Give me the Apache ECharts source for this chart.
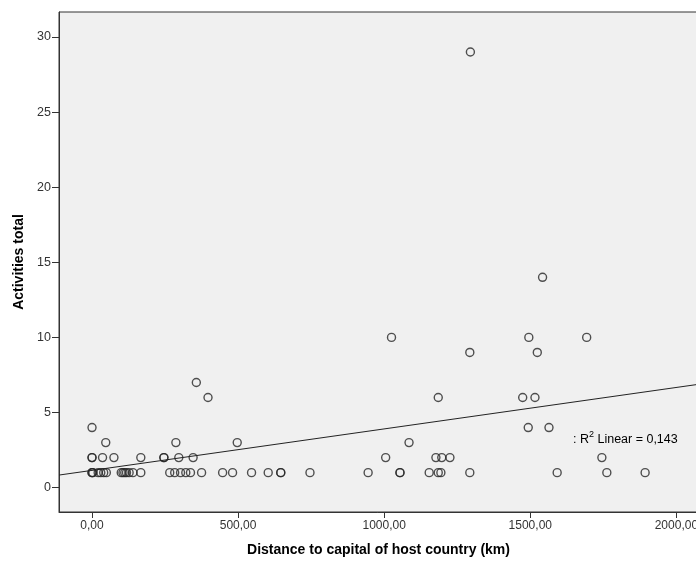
<!DOCTYPE html>
<html>
<head>
<meta charset="utf-8">
<script src="https://cdn.jsdelivr.net/npm/echarts@6/dist/echarts.min.js"></script>
<style>
  html, body { margin: 0; padding: 0; background: #ffffff; }
  #chart { width: 696px; height: 564px; }
</style>
</head>
<body>
<div id="chart"></div>
<script>
// Distance to capital (km) and activities total, paired by index
const distanceKm = [
  0, 0, 3, 21, 30, 40, 49, 100, 106, 112, 118, 127, 140, 167, 266, 283, 303, 321, 337, 375,
  447, 481, 546, 603, 646, 646, 746, 945, 1054, 1054, 1154, 1185, 1194, 1293, 1592, 1762, 1893,
  0, 0, 36, 75, 167, 246, 246, 297, 346, 1005, 1177, 1197, 1225, 1745,
  47, 287, 497, 1085,
  0, 1493, 1564,
  397, 1185, 1474, 1516,
  357,
  1293, 1524,
  1025, 1495, 1693,
  1542,
  1295
];
const activitiesTotal = [
  1, 1, 1, 1, 1, 1, 1, 1, 1, 1, 1, 1, 1, 1, 1, 1, 1, 1, 1, 1,
  1, 1, 1, 1, 1, 1, 1, 1, 1, 1, 1, 1, 1, 1, 1, 1, 1,
  2, 2, 2, 2, 2, 2, 2, 2, 2, 2, 2, 2, 2, 2,
  3, 3, 3, 3,
  4, 4, 4,
  6, 6, 6, 6,
  7,
  9, 9,
  10, 10, 10,
  14,
  29
];
const xTicks = [0, 500, 1000, 1500, 2000];
const yTicks = [0, 5, 10, 15, 20, 25, 30];
const xRange = [-113, 2074];
const yRange = [-1.62, 31.66];
// Linear fit
const fitIntercept = 1.15;
const fitSlope = 0.00276;
const r2Text = '0,143';

const points = distanceKm.map((d, i) => [d, activitiesTotal[i]]);
const fitLine = xRange.map(x => [x, fitIntercept + fitSlope * x]);

const font = 'Arial, "Liberation Sans", sans-serif';
const chart = echarts.init(document.getElementById('chart'), null, { renderer: 'canvas' });
chart.setOption({
  backgroundColor: '#ffffff',
  animation: false,
  grid: {
    left: 59, top: 12, right: -2, bottom: 52,
    outerBoundsMode: 'none', containLabel: false,
    show: true, backgroundColor: '#f0f0f0', borderColor: '#333333', borderWidth: 1
  },
  xAxis: {
    type: 'value', min: xRange[0], max: xRange[1],
    name: 'Distance to capital of host country (km)', nameLocation: 'middle', nameGap: 31,
    nameTextStyle: { fontFamily: font, fontWeight: 'bold', fontSize: 14, color: '#000' },
    axisLine: { show: true, onZero: false, lineStyle: { color: '#333333', width: 1 } },
    axisTick: { show: true, customValues: xTicks, length: 6, inside: false, lineStyle: { color: '#333333' } },
    axisLabel: {
      customValues: xTicks, margin: 8, hideOverlap: false,
      fontFamily: font, fontSize: 12, color: '#333333',
      formatter: v => v.toFixed(2).replace('.', ',')
    },
    splitLine: { show: false }
  },
  yAxis: {
    type: 'value', min: yRange[0], max: yRange[1],
    name: 'Activities total', nameLocation: 'middle', nameGap: 26, nameRotate: 90,
    nameTextStyle: { fontFamily: font, fontWeight: 'bold', fontSize: 14, color: '#000' },
    axisLine: { show: true, onZero: false, lineStyle: { color: '#333333', width: 1 } },
    axisTick: { show: true, customValues: yTicks, length: 7, inside: false, lineStyle: { color: '#333333' } },
    axisLabel: {
      customValues: yTicks, margin: 8,
      fontFamily: font, fontSize: 12.5, color: '#333333'
    },
    splitLine: { show: false }
  },
  series: [
    {
      type: 'line', data: fitLine, showSymbol: false, symbol: 'none',
      lineStyle: { color: '#222222', width: 1 }, z: 2, silent: true
    },
    {
      type: 'scatter', data: points, symbol: 'circle', symbolSize: 8,
      itemStyle: { color: 'rgba(0,0,0,0)', borderColor: '#262626', borderWidth: 1.4 },
      z: 3
    }
  ],
  graphic: [{
    type: 'text', left: 573, top: 430,
    style: {
      text: '{a|: R}{s|2}{a| Linear = ' + r2Text + '}',
      rich: {
        a: { fontFamily: font, fontSize: 12.5, fill: '#000', verticalAlign: 'bottom', lineHeight: 16 },
        s: { fontFamily: font, fontSize: 9, fill: '#000', verticalAlign: 'top', lineHeight: 16, padding: [0, 0, 7, 0] }
      }
    }
  }]
});
</script>
</body>
</html>
